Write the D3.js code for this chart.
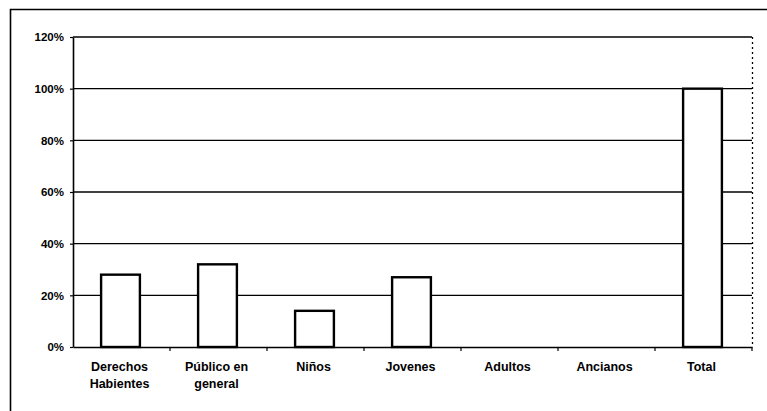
<!DOCTYPE html>
<html>
<head>
<meta charset="utf-8">
<script src="https://cdn.jsdelivr.net/npm/d3@7"></script>
<style>
  body { margin: 0; background: #fff; }
  svg text { font-family: "Liberation Sans", Arial, sans-serif; font-weight: bold; fill: #000; }
</style>
</head>
<body>
<div id="vis"></div>
<script>
// data
const categories = ["Derechos\nHabientes", "Público en\ngeneral", "Niños", "Jovenes", "Adultos", "Ancianos", "Total"];
const values = [0.28, 0.32, 0.14, 0.27, 0, 0, 1.0];
const yTicks = [0, 0.2, 0.4, 0.6, 0.8, 1.0, 1.2];

const W = 767, H = 411;
const margin = { top: 37, right: 15, bottom: 64, left: 73 };
const width = W - margin.left - margin.right,
  height = H - margin.top - margin.bottom;

const svg = d3.select("#vis").append("svg")
  .attr("width", W).attr("height", H);

// outer frame (cut by page edge)
svg.append("path")
  .attr("d", `M10.5,${H} L10.5,9.5 L${W},9.5`)
  .attr("fill", "none").attr("stroke", "#000").attr("stroke-width", 1.6);

const g = svg.append("g").attr("transform", `translate(${margin.left},${margin.top})`);

const x = d3.scaleBand().domain(categories).range([0, width]).paddingInner(0).paddingOuter(0);
const y = d3.scaleLinear().domain([0, 1.2]).range([height, 0]);

// gridlines
g.selectAll(".grid").data(yTicks.slice(1)).enter().append("line")
  .attr("x1", 0).attr("x2", width)
  .attr("y1", d => y(d)).attr("y2", d => y(d))
  .attr("stroke", "#000").attr("stroke-width", 1.4);

// right edge dotted
g.append("line")
  .attr("x1", width + 0.5).attr("x2", width + 0.5).attr("y1", 0).attr("y2", height)
  .attr("stroke", "#000").attr("stroke-width", 1.3).attr("stroke-dasharray", "2,3");

// bars
const barW = x.bandwidth() * 0.4;
g.selectAll(".bar").data(values).enter().append("rect")
  .attr("class", "bar")
  .attr("x", (d, i) => x(categories[i]) + (x.bandwidth() - barW) / 2 - 1)
  .attr("width", barW)
  .attr("y", d => y(d))
  .attr("height", d => height - y(d))
  .attr("fill", "#fff")
  .attr("stroke", d => d > 0 ? "#000" : "none")
  .attr("stroke-width", 2.4);

// y axis
const yAxis = g.append("g")
  .call(d3.axisLeft(y).tickValues(yTicks).tickFormat(d3.format(".0%")).tickSize(3).tickSizeOuter(0));
yAxis.select(".domain").attr("stroke-width", 1.6);
yAxis.selectAll(".tick line").attr("stroke-width", 1.2);
yAxis.selectAll("text").attr("font-size", 11.5).attr("x", -9);

// x axis
const xAxis = g.append("g").attr("transform", `translate(0,${height})`)
  .call(d3.axisBottom(x).tickSize(0).tickSizeOuter(0));
xAxis.select(".domain").attr("stroke-width", 1.6);
xAxis.selectAll(".tick text").remove();

// tick marks between categories
g.selectAll(".sep").data(categories.slice(1)).enter().append("line")
  .attr("x1", d => x(d)).attr("x2", d => x(d))
  .attr("y1", height).attr("y2", height + 4)
  .attr("stroke", "#000").attr("stroke-width", 1.2);
g.append("line").attr("x1", width).attr("x2", width)
  .attr("y1", height).attr("y2", height + 4)
  .attr("stroke", "#000").attr("stroke-width", 1.2);

// category labels
const lbl = g.selectAll(".lbl").data(categories).enter().append("text")
  .attr("text-anchor", "middle")
  .attr("font-size", 12.5)
  .attr("transform", d => `translate(${x(d) + x.bandwidth() / 2 - 2},${height + 24})`);
lbl.selectAll("tspan").data(d => d.split("\n")).enter().append("tspan")
  .attr("x", 0).attr("dy", (d, i) => i === 0 ? 0 : 16.5)
  .text(d => d);
</script>
</body>
</html>
